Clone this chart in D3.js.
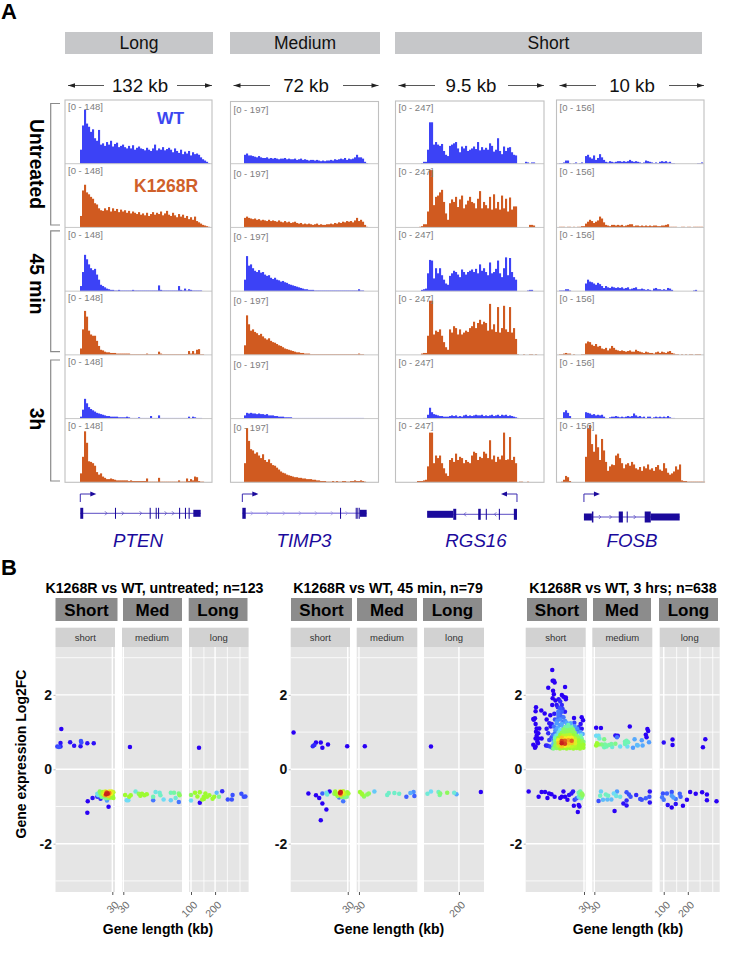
<!DOCTYPE html>
<html><head><meta charset="utf-8">
<script src="https://cdn.jsdelivr.net/npm/d3@7"></script>
<style>html,body{margin:0;background:#fff}svg{display:block}text{font-family:"Liberation Sans",Arial,sans-serif}</style>
</head><body><svg id="c" width="747" height="963"></svg>
<script>
// ---------- Panel A data (percent of each track's range, 2 px bins) ----------
const groups=["Long","Medium","Short"];
const spans=["132 kb","72 kb","9.5 kb","10 kb"];
const genes=["PTEN","TIMP3","RGS16","FOSB"];
const ranges=["[0 - 148]","[0 - 197]","[0 - 247]","[0 - 156]"];
const timepoints=["Untreated","45 min","3h"];
const pten=[
[22,60,85,63,58,50,54,40,36,53,30,32,28,34,30,36,27,31,33,26,28,30,26,24,28,24,29,22,25,27,24,23,21,25,22,20,24,30,21,24,22,26,21,23,25,22,18,24,20,17,22,15,19,16,20,13,18,15,16,14,10,7,5,3,1],
[18,58,67,55,52,48,45,38,36,30,27,26,30,27,32,25,30,26,29,24,28,25,27,23,26,22,25,23,21,24,20,22,19,23,18,21,24,20,23,21,25,19,22,26,20,18,23,19,16,21,17,20,15,18,13,16,12,17,10,8,6,4,3,2,1],
[8,30,57,50,42,36,33,35,26,18,10,8,6,4,3,2,2,1,1,2,1,1,1,1,1,1,2,1,1,1,1,1,1,1,1,1,1,1,1,9,2,1,1,1,1,1,1,1,1,8,2,1,4,1,3,2,1,1,1,1,1,0,0,0,0],
[10,40,69,60,38,32,30,30,22,14,8,7,5,4,4,3,3,3,2,2,2,2,2,2,2,1,1,1,1,1,1,1,1,2,1,1,1,1,1,5,2,1,1,1,1,1,1,1,1,1,1,1,1,1,6,2,6,2,8,9,1,1,0,0,0],
[3,14,31,24,18,15,13,11,9,8,7,6,5,4,4,3,3,3,3,2,2,2,2,3,2,1,1,1,1,2,1,1,1,1,1,4,1,1,1,5,1,1,1,1,1,1,1,1,1,1,1,1,1,1,3,1,3,2,1,1,1,0,0,0,0],
[14,40,80,62,33,32,30,26,16,12,14,9,7,5,5,6,5,4,3,3,3,3,3,3,2,3,2,2,2,2,2,2,2,6,1,1,1,1,1,7,1,1,1,1,1,1,1,1,1,3,1,1,1,6,2,5,3,9,8,2,1,1,0,0,0]];
const timp3=[
[14,16,13,13,12,11,10,12,10,9,9,10,8,9,8,9,8,7,8,8,9,7,8,7,7,8,6,7,8,6,7,6,5,6,6,5,6,5,4,5,4,5,5,6,5,7,6,7,8,7,9,6,8,7,8,10,14,10,10,8,3,1],
[15,17,15,14,13,14,12,13,11,12,11,10,12,10,11,10,9,11,9,8,10,8,9,7,8,9,7,6,7,5,6,5,6,5,4,5,6,4,5,4,4,5,5,6,5,7,6,8,7,9,8,10,9,10,8,11,15,10,12,9,4,1],
[18,55,40,42,36,32,30,33,29,30,26,24,25,21,19,21,18,17,15,16,14,13,11,10,9,8,7,6,5,4,3,3,2,2,2,1,1,1,1,1,1,1,1,1,1,1,1,1,1,1,1,1,1,1,1,1,1,3,1,1,0,0],
[15,62,48,38,40,36,34,31,33,29,26,24,26,22,20,19,17,15,14,12,10,9,8,7,6,5,4,4,3,3,2,2,2,1,1,1,1,1,1,1,1,1,1,1,1,1,1,1,1,1,1,1,1,1,1,1,1,2,1,1,0,0],
[5,9,8,9,8,8,7,8,7,7,6,7,5,5,5,4,4,3,3,3,2,2,2,2,1,1,1,1,1,1,1,1,1,1,1,1,1,1,1,1,1,1,1,1,1,1,1,1,1,1,1,1,1,1,1,1,1,1,1,1,0,0],
[30,85,65,52,50,45,47,42,38,44,35,32,36,30,27,26,23,20,17,15,14,12,11,10,9,8,8,7,7,6,6,5,5,5,4,4,3,3,2,2,2,1,1,1,2,1,2,1,1,2,2,1,1,2,2,3,2,2,3,2,1,0]];
const rgs16=[
[0,0,1,3,3,22,65,65,30,34,30,28,31,20,14,12,28,30,32,34,24,18,27,24,28,20,22,24,27,23,34,21,26,22,25,22,32,28,19,22,40,20,15,27,20,25,26,18,14,13,0,0,0,0,3,2,0,2,2,0],
[0,1,2,5,5,25,90,90,35,48,50,55,59,40,22,12,38,44,40,48,32,44,50,30,36,42,48,40,38,30,45,57,30,40,35,30,48,28,52,30,40,28,50,30,45,25,47,28,33,33,0,0,0,0,0,0,4,4,3,0],
[0,0,2,3,4,28,49,48,20,36,28,36,25,18,12,10,24,28,32,30,26,22,34,30,26,30,32,34,30,35,28,42,32,36,30,25,45,28,30,35,48,28,22,36,53,25,52,30,22,18,0,0,0,0,0,1,2,2,0,0],
[0,0,2,3,3,30,85,85,32,38,36,40,30,20,12,8,40,35,45,42,32,40,32,35,38,36,42,45,52,42,50,55,48,52,50,38,80,40,48,36,75,35,42,77,40,36,75,35,42,25,1,0,0,1,0,0,1,1,0,1],
[0,0,0,1,1,6,17,10,7,6,5,4,4,3,3,3,4,5,4,5,3,4,3,5,6,4,5,4,5,6,5,5,6,4,5,4,5,6,4,5,6,4,6,5,6,4,5,4,3,2,1,0,0,0,0,0,0,0,0,0],
[2,2,2,3,4,25,78,78,30,42,38,42,30,22,14,10,35,38,32,45,35,40,38,30,35,32,30,42,48,46,35,40,38,48,45,38,66,36,42,32,40,36,42,78,35,36,71,35,40,30,0,1,1,0,0,1,0,0,0,0]];
const fosb=[
[0,1,1,2,5,5,1,0,1,2,0,1,2,0,12,14,10,8,13,6,9,15,10,6,3,2,4,3,2,3,4,4,3,4,3,4,6,4,3,4,3,2,1,2,5,4,3,2,1,2,1,3,4,3,4,2,3,1,1,0,0,0,0,0,0,0,0,0,0,0,1,1,2,0],
[0,1,1,1,0,1,1,0,1,0,1,1,2,2,6,9,12,10,7,9,11,17,14,8,4,3,2,4,4,3,4,3,4,2,3,4,5,5,2,3,3,2,3,2,3,2,3,2,3,3,2,2,3,3,4,5,1,1,1,1,0,0,1,1,0,1,1,0,1,1,1,1,1,0],
[0,1,1,1,3,3,1,0,0,0,0,0,0,0,12,18,15,14,12,10,13,11,8,5,8,6,5,7,6,5,6,5,6,4,5,6,3,4,5,6,3,3,4,3,2,3,2,1,4,5,3,3,2,3,2,5,4,2,0,0,0,0,0,0,0,0,0,0,1,2,0,0,0,0],
[0,1,1,2,3,2,2,0,1,0,0,0,1,1,18,21,20,16,14,17,13,14,10,9,11,7,10,14,11,8,7,6,7,6,5,6,7,5,5,8,6,5,4,3,5,4,3,3,2,4,5,3,5,4,3,5,6,3,2,1,1,0,1,0,1,0,1,1,0,1,1,1,0,0],
[0,0,0,10,13,9,4,0,0,0,0,0,0,0,10,9,8,6,7,5,6,5,6,3,1,0,2,3,3,4,3,2,3,2,3,4,3,4,8,5,3,4,2,3,1,3,3,1,2,3,2,3,2,3,2,4,2,1,1,0,0,0,0,0,0,0,0,0,0,0,0,0,0,0],
[0,0,1,4,10,8,2,0,0,0,0,0,0,0,40,85,90,60,48,75,55,35,68,50,32,18,25,28,27,42,45,38,30,22,28,30,26,32,28,22,20,24,18,25,22,28,20,22,18,24,27,20,18,30,22,15,12,14,17,25,20,28,3,2,2,1,1,1,1,1,1,1,1,1]];
// gene models, percent of the 147 px window
const geneBody=[[10.4,92.3],[8,92],[38.9,81.8],[18.6,83.5]];
const exonsPTEN=[[10.4,12.4,"cds"],[34,34.7,"cds"],[57.6,58.3,"cds"],[61.7,62.4,"cds"],[63.3,64,"cds"],[77.6,78.3,"cds"],[81.6,82.3,"cds"],[84.1,84.8,"cds"],[87.3,92.3,"utr"]];
const exonsTIMP3=[[8,10.3,"cds"],[74,74.7,"cds"],[84.6,85.3,"cds"],[85.7,86.4,"cds"],[87,87.5,"cds"],[87.5,92,"utr"]];
const exonsRGS16=[[21.3,38.9,"utr"],[38.9,40.9,"cds"],[55.7,57.4,"cds"],[60.8,61.5,"cds"],[69.6,70.3,"cds"],[79.7,81.8,"cds"]];
const exonsFOSB=[[18.6,24,"utr"],[24,25,"cds"],[42.2,45,"cds"],[47.6,48.3,"cds"],[59.8,63.9,"cds"],[63.9,83.5,"utr"]];
const chevPTEN=[27.9,39.3,51.5,68.5,73.5],chevTIMP3=[14.5,25.1,36.1,47,57.8,68.6,78.5],chevRGS16=[46.8,67.2],chevFOSB=[29.4,36.6,53];
const tssPct=[10.4,8,81.8,18.6], strand=[1,1,-1,1];

// ---------- Panel B data: [log10 gene length (kb), log2FC, point density 0-1] ----------
const f1Short=[[.84,1.08,0],[.83,.71,.02],[.79,.61,.08],[.81,.60,.1],[.83,.61,.05],[.95,.73,.02],[1,.63,.02],[1.085,.76,.1],[1.09,.72,.1],[1.08,.62,.02],[1.165,.70,.02],[1.245,.70,.02],
[1.165,-1.17,0],[1.17,-.86,0],[1.23,-.77,.02],[1.29,-.74,.05],[1.33,-.79,.05],[1.43,-1.01,0],[1.41,-.84,.2],
[1.29,-.66,.33],[1.30,-.70,.3],[1.32,-.60,.5],[1.33,-.66,.5],[1.34,-.74,.45],[1.36,-.61,.55],[1.37,-.70,.55],[1.38,-.76,.45],[1.40,-.78,.45],[1.43,-.77,.5],[1.46,-.76,.55],[1.49,-.77,.55],[1.48,-.70,.55],[1.49,-.62,.6],[1.47,-.60,.65],[1.44,-.60,.7],[1.39,-.60,.65],[1.36,-.65,.6],[1.38,-.68,.7],[1.46,-.66,.7],[1.40,-.62,.8],[1.43,-.72,.75],[1.39,-.70,.8],[1.44,-.64,.85],[1.41,-.63,.95],[1.42,-.66,1],[1.40,-.67,1]];
const f1Med=[[1.56,.60,0],[1.50,-.69,.55],[1.55,-.74,.55],[1.57,-.70,.55],[1.52,-.83,.3],[1.54,-.83,.3],[1.63,-.60,.35],[1.67,-.66,.5],[1.69,-.71,.55],[1.71,-.66,.55],[1.74,-.70,.55],[1.77,-.67,.55],[1.85,-.74,.4],[1.85,-.83,.15],[1.88,-.61,.33],[1.93,-.63,.35],[1.94,-.70,.38],[1.98,-.81,.3],[2.07,-.83,.28],[2.07,-.63,.4],[2.11,-.63,.42],[2.13,-.77,.35],[2.17,-.65,.45],[2.18,-.70,.5],[2.17,-.88,.15]];
const f1Long=[[2.10,.58,0],[2,-.69,.5],[2,-.84,.3],[2.05,-.63,.55],[2.08,-.73,.55],[2.11,-.62,.55],[2.11,-.90,0],[2.16,-.80,.55],[2.18,-.65,.55],[2.20,-.74,.55],[2.23,-.70,.55],[2.27,-.79,.55],[2.29,-.74,.55],[2.32,-.63,.25],[2.35,-.74,.45],[2.39,-.59,.05],[2.46,-.81,.1],[2.52,-.69,.1],[2.51,-.81,.1],[2.63,-.66,.1],[2.66,-.74,.1],[2.68,-.73,.1],[2.14,-.81,.55],[2.16,-.74,.55]];
const f2Short=[[.80,.99,0],[1.04,.62,.05],[1.06,.65,.05],[1.08,.72,0],[1.14,.72,0],[1.16,.58,0],[1.23,.67,0],[1.47,.62,0],
[.985,-.65,0],[1.08,-.70,0],[1.12,-.77,0],[1.16,-.65,.12],[1.16,-.92,0],[1.21,-1.08,0],[1.14,-1.37,0],[1.25,-.60,0],[1.21,-.63,.3],[1.22,-.68,.35],[1.37,-.76,.15],[1.42,-.86,.15],
[1.32,-.60,.55],[1.31,-.66,.5],[1.335,-.67,.55],[1.35,-.72,.5],[1.38,-.60,.7],[1.37,-.65,.6],[1.42,-.59,.6],[1.435,-.67,.6],[1.47,-.62,.55],[1.485,-.65,.55],[1.465,-.74,.45],[1.435,-.75,.45],[1.40,-.74,.5],[1.41,-.63,.7],[1.39,-.66,.85],[1.385,-.69,.75],[1.39,-.61,1],[1.38,-.64,1]];
const f2Med=[[1.55,.62,0],[1.49,-.61,.55],[1.51,-.65,.55],[1.52,-.68,.55],[1.54,-.73,.5],[1.58,-.68,.5],[1.60,-.65,.5],[1.67,-.60,.27],[1.83,-.69,.37],[1.85,-.64,.37],[1.92,-.64,.37],[1.98,-.66,.37],[2.07,-.74,.12],[2.12,-.64,.23],[2.16,-.61,.18],[2.17,-.72,.12]];
const f2Long=[[2.06,.61,0],[2.03,-.66,.35],[2.06,-.60,.3],[2.125,-.61,.38],[2.135,-.69,.42],[2.14,-.65,.47],[2.20,-.63,.5],[2.26,-.63,.35],[2.28,-.67,.22],[2.49,-.61,0]];
const f3Short=[
[1.08,2.67,0],[1.085,2.38,0],[1.10,2.38,0],[1.11,2.33,0],[1.24,2.21,0],[1.03,2.19,0],[1.09,2.11,0],[1.10,2.02,0],[1.20,2.00,0],[1.22,1.95,0],[1.25,1.93,0],[1.25,1.88,0],[1.085,1.91,0],[1.12,1.85,0],[1.16,1.88,.02],[1.08,1.73,0],[1.135,1.73,.02],[1.18,1.82,.05],[1.20,1.73,.05],
[.877,1.67,0],[.872,1.56,0],[.943,1.58,0],[.985,1.50,0],[1.056,1.45,0],[1.106,1.49,.03],[1.239,1.55,.03],[1.177,1.64,.1],[1.156,1.55,.15],[1.198,1.55,.12],[.843,1.35,0],[.864,1.37,0],[.85,1.33,0],[1.01,1.34,0],[1.043,1.24,.02],[1.073,1.22,.03],[1.06,1.15,.02],[1.114,1.34,.1],[1.352,1.38,0],[1.448,1.40,0],[1.465,1.32,0],[1.435,1.22,.02],[1.41,1.13,.05],[1.448,1.09,.02],[1.356,1.25,.08],
[.872,1.22,0],[.885,1.10,0],[.918,1.10,0],[.877,1.01,0],[.906,.97,0],[.885,.90,0],[.872,.83,0],[.906,.83,0],[.947,.83,0],[.893,.74,0],[.843,.66,0],[.872,.61,0],[.902,.70,0],[.864,.58,0],[1.01,1.09,.02],[1.03,.97,.05],[1.002,.64,.03],[1.022,.63,.05],[1.052,.61,.08],[1.081,.58,.12],[1.043,.79,.08],[1.073,.86,.1],[1.093,.79,.15],[1.114,.97,.15],[1.135,1.06,.2],[1.177,1.19,.2],[1.218,1.28,.15],[1.156,1.37,.15],[1.198,1.41,.12],[1.156,1.46,.15],[1.135,1.24,.2],[1.177,1.50,.12],[1.22,1.14,.22],[1.27,1.20,.2],[1.30,1.15,.18],[1.34,1.10,.15],[1.38,.98,.2],[1.40,1.05,.1],
[1.15,1.12,.22],[1.20,1.22,.22],[1.24,1.30,.18],[1.18,1.34,.18],[1.22,1.40,.15],[1.14,1.30,.18],[1.10,1.15,.15],[1.12,1.05,.18],[1.09,.93,.15],[1.10,.72,.25],[1.09,.66,.25],[1.12,.90,.25],[1.31,1.24,.22],[1.36,1.16,.2],[1.39,1.10,.18],[1.43,1,.2],[1.46,.95,.22],[1.44,.92,.28],[1.26,1.25,.22],[1.17,1.45,.12],[1.21,1.62,.08],[1.15,1.67,.05],
[1.28,1.19,.4],[1.24,1.13,.42],[1.28,1.14,.42],[1.32,1.13,.42],[1.18,1.06,.3],[1.22,1.07,.48],[1.26,1.05,.48],[1.30,1.06,.48],[1.34,1.07,.48],[1.16,.99,.35],[1.20,.98,.5],[1.24,.99,.5],[1.28,1,.5],[1.32,.99,.5],[1.36,.98,.5],
[1.135,.91,.35],[1.18,.92,.55],[1.22,.90,.6],[1.26,.91,.6],[1.30,.92,.6],[1.34,.91,.55],[1.385,.90,.5],[1.43,.89,.4],
[1.114,.84,.4],[1.156,.84,.55],[1.198,.85,.75],[1.239,.83,.7],[1.281,.84,.7],[1.323,.85,.7],[1.364,.83,.6],[1.406,.84,.5],[1.448,.83,.42],
[1.114,.77,.45],[1.156,.78,.7],[1.198,.76,.95],[1.239,.77,.9],[1.281,.78,.8],[1.323,.77,.9],[1.364,.76,.65],[1.406,.78,.55],[1.448,.77,.5],
[1.127,.70,.5],[1.16,.71,.75],[1.198,.70,1],[1.239,.69,.95],[1.281,.70,.75],[1.323,.71,.75],[1.364,.70,.65],[1.406,.69,.55],[1.448,.71,.52],
[1.114,.63,.5],[1.156,.64,.6],[1.198,.62,.75],[1.239,.63,.7],[1.281,.64,.65],[1.323,.62,.6],[1.364,.63,.58],[1.406,.64,.55],[1.448,.63,.55],
[1.093,.56,.45],[1.135,.57,.5],[1.177,.56,.55],[1.218,.57,.55],[1.26,.56,.55],[1.302,.57,.55],[1.344,.56,.55],[1.385,.57,.55],[1.427,.56,.55],[1.469,.58,.55],[1.47,.66,.55],[1.47,.74,.45],
[.785,-.60,0],[.91,-.74,0],[.947,-.61,0],[.99,-.61,0],[1.02,-.77,0],[1.04,-.65,0],[1.07,-.67,0],[1.11,-.74,0],[1.18,-.77,0],[1.20,-.74,0],[1.22,-.60,0],[1.24,-.74,0],[1.27,-.82,0],[1.29,-.69,.02],[1.32,-.65,.03],[1.34,-.60,.03],[1.35,-.98,0],[1.41,-.96,0],[1.42,-1,0],[1.40,-1.15,0],[1.36,-.82,.08],[1.385,-.78,.12],
[1.41,-.63,.4],[1.43,-.60,.42],[1.45,-.65,.5],[1.46,-.69,.5],[1.43,-.69,.45],[1.41,-.74,.33],[1.45,-.74,.45],[1.44,-.78,.35]];
const f3Med=[[1.50,1.12,0],[1.56,1.11,0],[1.92,1.15,0],[2.14,1.08,0],[2.15,1.03,0],[2.12,.93,0],[2.13,.86,0],[1.74,.91,.02],[1.77,.90,.02],[1.50,.90,.3],[1.53,.90,.3],[1.54,.83,.35],[1.60,.81,.45],[1.51,.70,.55],[1.50,.64,.55],[1.53,.67,.5],[1.57,.67,.45],[1.61,.67,.42],[1.60,.59,.4],[1.63,.61,.4],[1.66,.65,.42],[1.69,.68,.42],[1.74,.69,.45],[1.70,.60,.35],[1.80,.61,.3],[1.86,.74,.4],[1.88,.77,.4],[1.90,.73,.4],[1.89,.61,.3],[1.96,.58,.2],[1.98,.81,.22],[2.01,.65,.25],[2.02,.64,.25],[2.07,.78,.2],[2.08,.64,.22],[2.16,.73,.2],[1.76,.86,.15],[1.86,.68,.4],
[1.56,-.60,.28],[1.53,-.85,.1],[1.55,-.71,.38],[1.585,-.82,.25],[1.62,-.68,.38],[1.65,-.71,.38],[1.64,-.81,.25],[1.69,-.81,.25],[1.72,-.65,.3],[1.76,-.60,.2],[1.75,-.72,.33],[1.80,-.74,.33],[1.88,-.62,.1],[1.91,-.68,.1],[1.93,-.74,.1],[2,-.69,.05],[2.05,-.80,.1],[2.07,-.82,.1],[2.12,-.78,.12],[2.165,-.74,.1],[2.17,-.60,.02],[2.17,-.89,.02],[1.88,-.84,.05],[1.84,-.92,.02],[1.88,-.97,.02],[1.73,-1.12,0]];
const f3Long=[[2,.72,.02],[2.11,.80,0],[2.11,.65,0],[2.52,.81,0],[2.49,.59,0],[1.99,-.65,.1],[2.04,-.65,.12],[1.98,-.75,.15],[2,-.82,.15],[2.10,-.61,.1],[2.10,-.71,.2],[2.12,-.76,.2],[2.15,-.80,.15],[2.20,-.66,.12],[2.21,-.74,.12],[2.15,-.93,.02],[2.05,-.96,.02],[2.10,-1.03,0],[2.24,-.98,0],[2.29,-.82,0],[2.33,-.61,0],[2.40,-.66,0],[2.48,-.62,0],[2.54,-.68,0],[2.54,-.83,0],[2.66,-.86,0]];
const facetTitles=["K1268R vs WT, untreated; n=123","K1268R vs WT, 45 min, n=79","K1268R vs WT, 3 hrs; n=638"];
const stripTop=["Short","Med","Long"], stripSub=["short","medium","long"];
const yTicks=[2,0,-2], yMinor=[3,1,-1,-3];
const facetData=[[f1Short,f1Med,f1Long],[f2Short,f2Med,f2Long],[f3Short,f3Med,f3Long]];
const xDomains=[[[5.85,32.4],[28.9,162],[94.4,525]],[[5.81,32],[28.1,161],[100,329]],[[5.6,31.5],[28.3,159],[89,501]]];
const xMajor=[[[30],[30],[100,200]],[[30],[30],[200]],[[30],[30],[100,200]]];
const xMinor=[[[],[],[145,285,410]],[[],[],[]],[[],[],[145,285,410]]];

// ---------- layout ----------
const svg=d3.select("#c");
const letter=(t,x,y)=>svg.append("text").attr("x",x).attr("y",y).attr("font-size",22).attr("font-weight","bold").text(t);
letter("A",1,19);letter("B",1,575);

const colX=[[65,212],[230.5,378.5],[395.5,544],[556.5,704]];
const colTop=[100,101.5,101,100];
const rowY=d3.scaleLinear().domain([0,6]).range([100,482.3]);
const headerX=[[65,213],[230,380],[395,702]];
groups.forEach((g,i)=>{
  svg.append("rect").attr("x",headerX[i][0]).attr("y",32).attr("width",headerX[i][1]-headerX[i][0]).attr("height",22).attr("fill","#c6c7c9");
  svg.append("text").attr("x",d3.mean(headerX[i])).attr("y",49).attr("text-anchor","middle").attr("font-size",17.5).attr("fill","#111").text(g);
});
const spanCx=[140,306,471,632];
const hArrow=(x1,x2,y)=>{
  const d=x2>x1?1:-1;
  svg.append("line").attr("x1",x1).attr("x2",x2).attr("y1",y).attr("y2",y).attr("stroke","#444").attr("stroke-width",.9);
  svg.append("path").attr("d",`M${x2},${y}l${-d*7},-2.3v4.6z`).attr("fill","#222");
};
spans.forEach((s,i)=>{
  const [a,b]=colX[i];
  svg.append("text").attr("x",spanCx[i]).attr("y",91.5).attr("text-anchor","middle").attr("font-size",18.7).attr("fill","#111").text(s);
  hArrow(spanCx[i]-36,a+3,85.5);hArrow(spanCx[i]+37,b,85.5);
});
// brackets and time labels
const bracketY=[[103.5,225],[230.8,351.7],[360,481]];
const timeCy=[164,284,419];
timepoints.forEach((t,i)=>{
  const [a,b]=bracketY[i];
  svg.append("path").attr("d",`M60,${a}H50.7V${b}H60`).attr("fill","none").attr("stroke","#8a8a8a").attr("stroke-width",1.2);
  svg.append("text").attr("transform",`translate(29.5,${timeCy[i]}) rotate(90)`).attr("text-anchor","middle").attr("font-size",19.3).attr("font-weight","bold").text(t);
});
// tracks
const tracks=[pten,timp3,rgs16,fosb];
const trackStart=[80,244,417,557];
const trackColors=["#3c42f6","#d05a20"];
const labelOff=[7,9.5,7.5,7.5];
tracks.forEach((set,c)=>{
  const [L,R]=colX[c];
  const g=svg.append("g");
  set.forEach((vals,r)=>{
    const top=rowY(r),bot=rowY(r+1);
    const y=d3.scaleLinear().domain([0,100]).range([bot,top]);
    const x=d3.scaleLinear().domain([0,vals.length]).range([trackStart[c],trackStart[c]+vals.length*2]);
    g.append("g").selectAll("rect").data(vals).join("rect")
     .attr("x",(d,i)=>x(i)).attr("width",(d,i)=>x(i+1)-x(i)+.1)
     .attr("y",d=>y(d)).attr("height",d=>y(0)-y(d))
     .attr("fill",trackColors[r%2]);
  });
  d3.range(1,6).forEach(r=>g.append("line").attr("x1",L).attr("x2",R).attr("y1",rowY(r)).attr("y2",rowY(r)).attr("stroke","#c8c8c8").attr("stroke-width",1));
  g.append("rect").attr("x",L).attr("y",colTop[c]).attr("width",R-L).attr("height",482.3-colTop[c]).attr("fill","none").attr("stroke","#c0c0c0").attr("stroke-width",1.1);
  d3.range(6).forEach(r=>g.append("text").attr("x",L+3).attr("y",rowY(r)+labelOff[c]+3.3).attr("font-size",9.5).attr("fill","#7d7d7d").text(ranges[c]));
});
svg.append("text").attr("x",157).attr("y",124).attr("font-size",17.4).attr("font-weight","bold").attr("fill","#3c46f0").text("WT");
svg.append("text").attr("x",134).attr("y",192).attr("font-size",17.5).attr("font-weight","bold").attr("fill","#d0602a").text("K1268R");
// gene models
const geneInk="#1b0a9c";
const geneExons=[exonsPTEN,exonsTIMP3,exonsRGS16,exonsFOSB],geneChev=[chevPTEN,chevTIMP3,chevRGS16,chevFOSB];
const geneY=[513.3,513.3,514.3,517],geneCx=[138,304,476,632],lineInk=["#5a4cc4","#9a90e4","#5a4cc4","#5a4cc4"];
const exonH={cds:11,utr:7};
genes.forEach((n,c)=>{
  const [L,R]=colX[c];
  const x=d3.scaleLinear().domain([0,100]).range([L,R]);
  const y=geneY[c];
  svg.append("line").attr("x1",x(geneBody[c][0])).attr("x2",x(geneBody[c][1])).attr("y1",y).attr("y2",y).attr("stroke",lineInk[c]).attr("stroke-width",c==1?1.4:1);
  svg.selectAll(null).data(geneExons[c]).join("rect").attr("x",d=>x(d[0])).attr("width",d=>x(d[1])-x(d[0])).attr("y",d=>y-exonH[d[2]]/2).attr("height",d=>exonH[d[2]]).attr("fill",geneInk);
  const dir=c==2?-1:1;
  svg.selectAll(null).data(geneChev[c]).join("path").attr("d",d=>`M${x(d)-dir*1},${y-2}l${dir*2},2l${-dir*2},2`).attr("fill","none").attr("stroke",lineInk[c]).attr("stroke-width",.8);
  const tx=x(tssPct[c]),s=strand[c];
  svg.append("path").attr("d",`M${tx},502V494H${tx+s*11}`).attr("fill","none").attr("stroke","#3a2ab0").attr("stroke-width",1);
  svg.append("path").attr("d",`M${tx+s*16},494l${-s*6},-2.6v5.2z`).attr("fill",geneInk);
  svg.append("text").attr("x",geneCx[c]).attr("y",546.5).attr("text-anchor","middle").attr("font-size",18.7).attr("font-style","italic").attr("fill",geneInk).text(n);
});

// ---------- Panel B ----------
const panelTop=647,panelBot=892,stripY=[598,621,627.7];
const yB=d3.scaleLinear().domain([0,1]).range([769.3,732.1]);
const jet=d3.scaleLinear().domain([0,.1,.2,.3,.4,.55,.7,.85,1]).range(["#2a00f5","#3a50ff","#4f9cff","#6fdcf5","#70f5b5","#9dfb30","#f5ee20","#f08020","#c8201c"]);
const titleCx=[154.5,388,623],facetCx=[158,389,628];
const panelsX=[[[55.5,115],[122,182],[189,248.6]],[[290.7,350],[356.7,417.3],[424,484]],[[525.7,585.7],[592.3,652.3],[659.7,719.7]]];
const darkX=[[[55.5,117.5],[123,182],[188.7,247.5]],[[291,352],[357,417],[423,482]],[[527,587],[593,651],[659,718]]];
facetTitles.forEach((t,f)=>{
  svg.append("text").attr("x",titleCx[f]).attr("y",592.5).attr("text-anchor","middle").attr("font-size",14.2).attr("font-weight","bold").text(t);
  stripTop.forEach((s,p)=>{
    const [a,b]=darkX[f][p],[L,R]=panelsX[f][p];
    svg.append("rect").attr("x",a).attr("y",stripY[0]).attr("width",b-a).attr("height",stripY[1]-stripY[0]).attr("fill","#8c8c8c");
    svg.append("text").attr("x",(a+b)/2).attr("y",615.8).attr("text-anchor","middle").attr("font-size",17).attr("font-weight","bold").text(s);
    svg.append("rect").attr("x",L).attr("y",stripY[2]).attr("width",R-L).attr("height",panelTop-stripY[2]).attr("fill","#d2d2d2");
    svg.append("text").attr("x",(L+R)/2).attr("y",641).attr("text-anchor","middle").attr("font-size",9.5).attr("fill","#333").text(stripSub[p]);
    svg.append("rect").attr("x",L).attr("y",panelTop).attr("width",R-L).attr("height",panelBot-panelTop).attr("fill","#e5e5e5");
    const x=d3.scaleLog().domain(xDomains[f][p]).range([L,R]);
    const grid=svg.append("g").attr("stroke","#fff");
    yMinor.forEach(v=>grid.append("line").attr("x1",L).attr("x2",R).attr("y1",yB(v)).attr("y2",yB(v)).attr("stroke-width",.8));
    xMinor[f][p].forEach(v=>grid.append("line").attr("x1",x(v)).attr("x2",x(v)).attr("y1",panelTop).attr("y2",panelBot).attr("stroke-width",.8));
    yTicks.forEach(v=>grid.append("line").attr("x1",L).attr("x2",R).attr("y1",yB(v)).attr("y2",yB(v)).attr("stroke-width",1.4));
    xMajor[f][p].forEach(v=>grid.append("line").attr("x1",x(v)).attr("x2",x(v)).attr("y1",panelTop).attr("y2",panelBot).attr("stroke-width",1.4));
    // x axis
    const ax=svg.append("g").attr("transform",`translate(0,${panelBot})`).call(d3.axisBottom(x).tickValues(xMajor[f][p]).tickFormat(d3.format("d")).tickSize(3).tickPadding(2));
    ax.select(".domain").remove();
    ax.selectAll(".tick line").attr("stroke","#555");
    ax.selectAll("text").attr("font-size",10.5).attr("fill","#6a6a6a").attr("text-anchor","end").attr("dy",0).attr("transform","translate(3,10) rotate(-45)");
    // points, densest on top
    const pts=facetData[f][p].slice().sort((m,n)=>m[2]-n[2]);
    svg.append("g").selectAll("circle").data(pts).join("circle")
      .attr("cx",d=>x(Math.pow(10,d[0]))).attr("cy",d=>yB(d[1])).attr("r",2.25).attr("fill",d=>jet(d[2]));
  });
  const ay=svg.append("g").attr("transform",`translate(${panelsX[f][0][0]},0)`).call(d3.axisLeft(yB).tickValues(yTicks).tickFormat(String).tickSize(2).tickPadding(1.5));
  ay.select(".domain").remove();
  ay.selectAll(".tick line").attr("stroke","#bbb");
  ay.selectAll("text").attr("font-size",14).attr("font-weight","bold").attr("fill","#111").attr("font-family","Liberation Sans");
  svg.append("text").attr("x",facetCx[f]).attr("y",933.5).attr("text-anchor","middle").attr("font-size",14).attr("font-weight","bold").text("Gene length (kb)");
});
svg.append("text").attr("transform","translate(26,754) rotate(-90)").attr("text-anchor","middle").attr("font-size",14).attr("font-weight","bold").text("Gene expression Log2FC");
</script></body></html>
